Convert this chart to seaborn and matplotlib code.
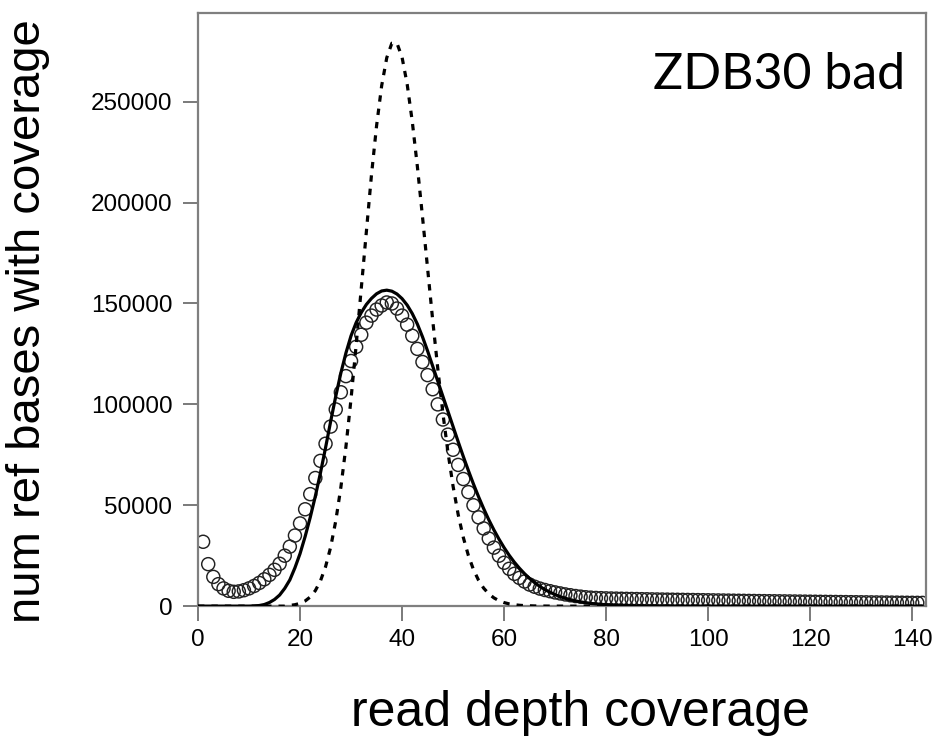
import matplotlib
matplotlib.use("Agg")
import matplotlib.pyplot as plt
import numpy as np
import seaborn as sns

# observed coverage histogram (depth 1..142)
obs_depth = np.arange(1, 143)
obs_count = [
    31900, 20800, 14500, 10900, 8800, 7600, 7100, 7300, 7900, 8800,
    10000, 11500, 13300, 15500, 18000, 21000, 25000, 29500, 35000, 41000,
    48000, 55500, 63500, 72000, 80500, 89000, 97500, 106000, 114000, 121500,
    128500, 134500, 140500, 144000, 147000, 149000, 150500, 150000, 147500, 144000,
    139500, 134000, 127500, 121000, 114500, 107500, 100000, 92500, 85000, 77500,
    70000, 63000, 56500, 50000, 44000, 38500, 33500, 29000, 25000, 21500,
    18500, 16000, 14000, 12200, 10700, 9600, 8700, 8000, 7400, 6800,
    6300, 5800, 5400, 5000, 4700, 4400, 4200, 4050, 3950, 3850,
    3780, 3720, 3660, 3600, 3550, 3500, 3450, 3400, 3350, 3300,
    3260, 3220, 3180, 3140, 3100, 3060, 3020, 2980, 2940, 2900,
    2860, 2820, 2780, 2740, 2700, 2660, 2620, 2580, 2540, 2500,
    2470, 2440, 2410, 2380, 2350, 2320, 2290, 2260, 2230, 2200,
    2170, 2140, 2110, 2080, 2050, 2020, 1990, 1960, 1930, 1900,
    1880, 1850, 1820, 1800, 1770, 1740, 1720, 1690, 1660, 1640,
    1620, 1600,
]

# fitted curves, depth 0..142
fit_depth = np.arange(0, 143)
fit_count = [
    0, 0, 0, 0, 0, 0, 0, 0, 0, 0,
    0, 100, 300, 800, 1800, 3300, 5500, 8800, 13000, 19000,
    26000, 34500, 44000, 54500, 66000, 78500, 91500, 104000, 115500, 125500,
    134000, 140500, 145500, 149500, 152500, 154800, 156200, 156600, 156100, 154700,
    152400, 149200, 145000, 139800, 133500, 126500, 119000, 111500, 104000, 96500,
    89000, 81500, 74200, 67200, 60500, 54200, 48300, 42800, 37800, 33200,
    29000, 25200, 21800, 18800, 16100, 13700, 11600, 9800, 8200, 6900,
    5700, 4700, 3900, 3200, 2600, 2100, 1700, 1350, 1100, 880,
    700, 550, 430, 340, 260, 200, 150, 110, 80, 60,
    40, 0, 0, 0, 0, 0, 0, 0, 0, 0,
    0, 0, 0, 0, 0, 0, 0, 0, 0, 0,
    0, 0, 0, 0, 0, 0, 0, 0, 0, 0,
    0, 0, 0, 0, 0, 0, 0, 0, 0, 0,
    0, 0, 0, 0, 0, 0, 0, 0, 0, 0,
    0, 0, 0,
]
poisson_count = [
    0, 0, 0, 0, 0, 0, 0, 0, 0, 0,
    0, 0, 0, 0, 0, 0, 0, 0, 345, 710,
    1380, 2560, 4540, 7700, 12500, 19500, 29200, 42200, 58800, 79100,
    102800, 129300, 157600, 186200, 213600, 238000, 257900, 271800, 279000, 279000,
    272000, 258700, 240200, 217900, 193100, 167400, 141900, 117800, 95700, 76200,
    59400, 45400, 34100, 25100, 18100, 12800, 8900, 6100, 4100, 2700,
    1760, 1120, 700, 430, 260, 150, 90, 50, 30, 15,
    0, 0, 0, 0, 0, 0, 0, 0, 0, 0,
    0, 0, 0, 0, 0, 0, 0, 0, 0, 0,
    0, 0, 0, 0, 0, 0, 0, 0, 0, 0,
    0, 0, 0, 0, 0, 0, 0, 0, 0, 0,
    0, 0, 0, 0, 0, 0, 0, 0, 0, 0,
    0, 0, 0, 0, 0, 0, 0, 0, 0, 0,
    0, 0, 0, 0, 0, 0, 0, 0, 0, 0,
    0, 0, 0,
]

x_ticks = [0, 20, 40, 60, 80, 100, 120, 140]
y_ticks = [0, 50000, 100000, 150000, 200000, 250000]
title = "ZDB30 bad"

sns.set_style("ticks")
plt.rcParams["font.family"] = ["Liberation Sans", "DejaVu Sans"]
plt.rcParams["text.color"] = "black"
plt.rcParams["axes.labelcolor"] = "black"

fig = plt.figure(figsize=(9.34, 7.41), dpi=100)
ax = fig.add_axes([0.212, 0.182, 0.7794, 0.800])

sns.scatterplot(x=obs_depth, y=obs_count, ax=ax, marker="o", s=88,
                facecolor="none", edgecolor="#222222", linewidth=1.05, zorder=2)
sns.lineplot(x=fit_depth, y=fit_count, ax=ax, color="black", lw=2.3, zorder=3)
sns.lineplot(x=fit_depth, y=poisson_count, ax=ax, color="black", lw=2.3,
             zorder=3)
ax.lines[-1].set_dashes((2, 2.2))

ax.set_xlim(0, 142.7)
ax.set_ylim(0, 293800)
ax.set_xticks(x_ticks)
ax.set_yticks(y_ticks)
ax.set_yticklabels([str(v) for v in y_ticks])
ax.tick_params(axis="both", which="major", direction="out", length=10.5,
               width=1.3, color="#707070", labelsize=17.5, labelcolor="black",
               bottom=True, left=True)
ax.tick_params(axis="x", pad=6)
ax.tick_params(axis="y", pad=8)
for sp in ax.spines.values():
    sp.set_visible(True)
    sp.set_color("#7f7f7f")
    sp.set_linewidth(1.6)

ax.set_xlabel("read depth coverage", fontsize=36)
ax.xaxis.set_label_coords(0.525, -0.142)
ax.xaxis.label.set_va("top")
ax.set_ylabel("num ref bases with coverage", fontsize=34)
ax.yaxis.set_label_coords(-0.233, 0.481)
ax.yaxis.label.set_va("center")
ax.text(0.971, 0.896, title, transform=ax.transAxes, ha="right", va="center",
        fontsize=36, color="black", family=["Lato", "DejaVu Sans"])

plt.savefig("out.png", dpi=100)
plt.close()
